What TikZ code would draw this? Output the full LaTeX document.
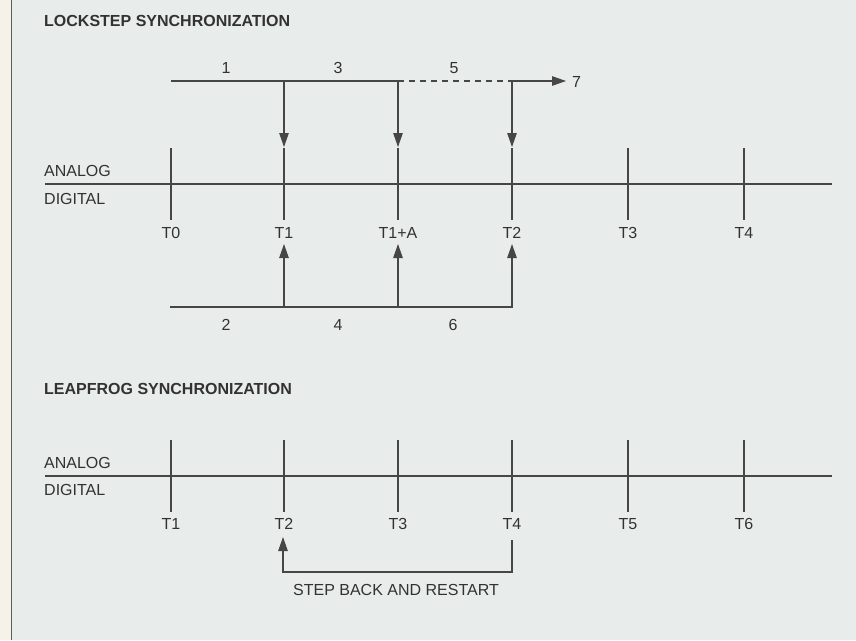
\documentclass[tikz,border=0pt]{standalone}
\usepackage{fontspec}
\setmainfont{Liberation Sans}
\usetikzlibrary{arrows.meta}
\definecolor{bgmain}{RGB}{232,236,234}
\definecolor{bgleft}{RGB}{245,242,234}
\definecolor{ink}{RGB}{50,50,50}
\definecolor{lnc}{RGB}{70,70,70}
\tikzset{
  ln/.style={draw=lnc, line width=1.1pt},
  arr/.style={ln, -{Triangle[length=14pt,width=9.5pt]}},
  lbl/.style={text=ink, font=\fontsize{16}{19}\selectfont, inner sep=0pt},
  ttl/.style={text=ink, font=\fontsize{16}{19}\selectfont\bfseries, inner sep=0pt, anchor=west},
}
\begin{document}
\begin{tikzpicture}[x=1pt,y=-1pt]
\useasboundingbox (0,0) rectangle (856,640);
\fill[bgleft] (0,0) rectangle (12,640);
\fill[bgmain] (12,0) rectangle (856,640);
\draw[draw=ink!80, line width=1.2pt] (11.5,0) -- (11.5,640);

% ---------------- LOCKSTEP ----------------
\node[ttl] (t1) at (44,21) {LOCKSTEP SYNCHRONIZATION};

% top process line
\coordinate (u0) at (171,81);
\coordinate (u1) at (284,81);
\coordinate (u2) at (398,81);
\coordinate (u3) at (512,81);
\coordinate (u4) at (566,81);
\draw[ln] (u0) -- (u2);
\draw[ln, dashed, dash pattern=on 6pt off 5pt] (u2) -- (u3);
\draw[arr] (u3) -- (u4);
\node[lbl, anchor=west] (n7) at (572,82) {7};
\node[lbl] (n1) at (226,68) {1};
\node[lbl] (n3) at (338,68) {3};
\node[lbl] (n5) at (454,68) {5};

% downward arrows
\coordinate (d1) at (284,147);
\coordinate (d2) at (398,147);
\coordinate (d3) at (512,147);
\draw[arr] (u1) -- (d1);
\draw[arr] (u2) -- (d2);
\draw[arr] (u3) -- (d3);

% timeline
\coordinate (ta) at (45,184);
\coordinate (tb) at (832,184);
\draw[ln] (ta) -- (tb);
\node[lbl, anchor=west] (an1) at (44,171) {ANALOG};
\node[lbl, anchor=west] (dg1) at (44,199) {DIGITAL};
\foreach \x/\t/\n in {171/T0/a, 284/T1/b, 398/T1+A/c, 512/T2/d, 628/T3/e, 744/T4/f}{
  \coordinate (k\n t) at (\x,148);
  \coordinate (k\n b) at (\x,220);
  \draw[ln] (k\n t) -- (k\n b);
  \node[lbl] (L\n) at (\x,233) {\t};
}

% bottom process line
\coordinate (b0) at (170,307);
\coordinate (b1) at (284,307);
\coordinate (b2) at (398,307);
\coordinate (b3) at (513,307);
\coordinate (b4) at (512,307);
\coordinate (e1) at (284,244);
\coordinate (e2) at (398,244);
\coordinate (e3) at (512,244);
\draw[ln] (b0) -- (b3);
\draw[arr] (b1) -- (e1);
\draw[arr] (b2) -- (e2);
\draw[arr] (b4) -- (e3);
\node[lbl] (n2) at (226,325) {2};
\node[lbl] (n4) at (338,325) {4};
\node[lbl] (n6) at (453,325) {6};

% ---------------- LEAPFROG ----------------
\node[ttl] (t2) at (44,389) {LEAPFROG SYNCHRONIZATION};
\coordinate (sa) at (45,476);
\coordinate (sb) at (832,476);
\draw[ln] (sa) -- (sb);
\node[lbl, anchor=west] (an2) at (44,463) {ANALOG};
\node[lbl, anchor=west] (dg2) at (44,490) {DIGITAL};
\foreach \x/\t/\n in {171/T1/a, 284/T2/b, 398/T3/c, 512/T4/d, 628/T5/e, 744/T6/f}{
  \coordinate (m\n t) at (\x,440);
  \coordinate (m\n b) at (\x,512);
  \draw[ln] (m\n t) -- (m\n b);
  \node[lbl] (M\n) at (\x,524) {\t};
}
\coordinate (r0) at (512,540);
\coordinate (r1) at (512,572);
\coordinate (r2) at (283,572);
\coordinate (r3) at (283,537);
\draw[arr] (r0) -- (r1) -- (r2) -- (r3);
\node[lbl] (sbr) at (396,590) {STEP BACK AND RESTART};
\end{tikzpicture}
\end{document}
